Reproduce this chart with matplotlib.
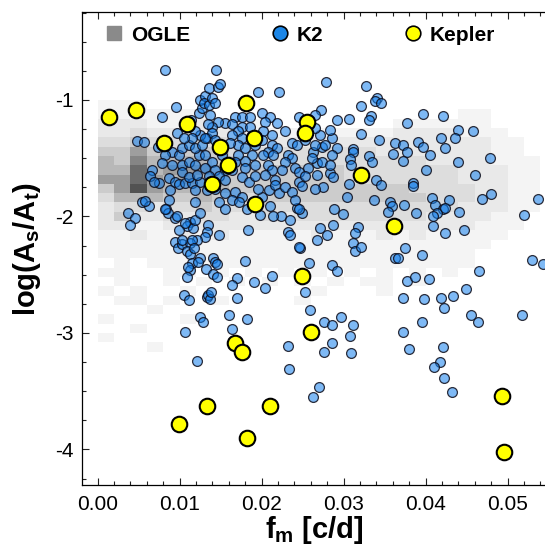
import numpy as np
import matplotlib
matplotlib.use("Agg")
import matplotlib.pyplot as plt
from matplotlib.colors import ListedColormap
from matplotlib.lines import Line2D
from matplotlib.ticker import MultipleLocator, FormatStrFormatter

plt.rcParams["font.family"] = ["Liberation Sans", "DejaVu Sans"]
plt.rcParams["axes.unicode_minus"] = False
plt.rcParams["mathtext.fontset"] = "custom"
plt.rcParams["mathtext.rm"] = "Liberation Sans"
plt.rcParams["mathtext.bf"] = "Liberation Sans:bold"

# ---- OGLE density map (relative counts per cell, 0 = empty) ----
ogle_f_edges = np.arange(0.0, 0.0561, 0.002)          # 28 frequency bins
ogle_logamp_top = -0.92
ogle_logamp_step = 0.08
ogle_rows = [
    "0000000000000000000000000000",
    "1110000000000000000000000000",
    "1111111000000000000000110000",
    "2221112111000000001111110000",
    "2232222211111111112222111000",
    "3343333322222222222222221100",
    "4464444433333333322222221100",
    "5475555443333333333322221110",
    "5585666544444343333333222110",
    "6686565544444443333333222110",
    "4696555544444444444333322110",
    "3555445443444444444433322110",
    "2332334333333333333333222110",
    "2422323322323333333322221100",
    "2211222222222222222222211100",
    "1121121211111211121211111000",
    "1111111111111111111111110000",
    "1111111111111111111111100000",
    "0101111111111111111111100000",
    "1100110101010101010101000000",
    "0100101010101010110100000000",
    "1010010000000100010000000000",
    "0110100100001000000000000000",
    "0001000000000000000000000000",
    "1000010000000000000000000000",
    "0010000000000000000000000000",
    "1000000000000000000000000000",
    "0001000000000000000000000000",
    "0000000000000000000000000000",
]
# grey level drawn for each count class 0..9
ogle_grey_levels = [1.0, 0.955, 0.915, 0.865, 0.8, 0.72, 0.62, 0.52, 0.42, 0.32]

# ---- K2 stars: main frequency [c/d] and log amplitude ratio ----
k2_freq = [
    0.0082, 0.0145, 0.0196, 0.0221, 0.0279, 0.0327, 0.0341, 0.0338, 0.0346, 0.0321,
    0.0334, 0.0331, 0.0292, 0.0307, 0.0273, 0.0265, 0.0397, 0.0421, 0.0377, 0.0321,
    0.0343, 0.0286, 0.0292, 0.0312, 0.0312, 0.0363, 0.0372, 0.0377, 0.0360, 0.0391,
    0.0397, 0.0405, 0.0372, 0.0419, 0.0424, 0.0440, 0.0436, 0.0458, 0.0440, 0.0479,
    0.0331, 0.0335, 0.0308, 0.0309, 0.0400, 0.0460, 0.0469, 0.0480, 0.0537, 0.0520,
    0.0385, 0.0384, 0.0408, 0.0412, 0.0429, 0.0421, 0.0441, 0.0388, 0.0340, 0.0345,
    0.0337, 0.0356, 0.0359, 0.0374, 0.0354, 0.0307, 0.0304, 0.0288, 0.0299, 0.0284,
    0.0287, 0.0275, 0.0265, 0.0268, 0.0274, 0.0271, 0.0263, 0.0268, 0.0257, 0.0284,
    0.0414, 0.0409, 0.0424, 0.0271, 0.0280, 0.0268, 0.0287, 0.0318, 0.0314, 0.0312,
    0.0314, 0.0321, 0.0409, 0.0424, 0.0447, 0.0375, 0.0396, 0.0363, 0.0366, 0.0258,
    0.0286, 0.0292, 0.0377, 0.0387, 0.0404, 0.0465, 0.0530, 0.0543, 0.0449, 0.0372,
    0.0398, 0.0419, 0.0433, 0.0423, 0.0518, 0.0455, 0.0464, 0.0396, 0.0372, 0.0380,
    0.0421, 0.0418, 0.0410, 0.0423, 0.0432, 0.0253, 0.0259, 0.0276, 0.0286, 0.0297,
    0.0312, 0.0308, 0.0286, 0.0276, 0.0309, 0.0270, 0.0263, 0.0232, 0.0234, 0.0247,
    0.0249, 0.0037, 0.0046, 0.0040, 0.0054, 0.0063, 0.0058, 0.0084, 0.0086, 0.0095,
    0.0113, 0.0109, 0.0116, 0.0119, 0.0135, 0.0134, 0.0131, 0.0121, 0.0148, 0.0184,
    0.0095, 0.0098, 0.0103, 0.0113, 0.0109, 0.0113, 0.0115, 0.0113, 0.0110, 0.0109,
    0.0125, 0.0123, 0.0141, 0.0143, 0.0146, 0.0132, 0.0141, 0.0146, 0.0180, 0.0170,
    0.0164, 0.0191, 0.0204, 0.0213, 0.0105, 0.0112, 0.0134, 0.0135, 0.0137, 0.0138,
    0.0170, 0.0125, 0.0129, 0.0160, 0.0182, 0.0164, 0.0107, 0.0121, 0.0224, 0.0235,
    0.0232, 0.0235, 0.0246, 0.0243, 0.0210, 0.0198, 0.0214, 0.0097, 0.0099, 0.0103,
    0.0115, 0.0118, 0.0096, 0.0079, 0.0048, 0.0057, 0.0074, 0.0091, 0.0082, 0.0079,
    0.0091, 0.0099, 0.0103, 0.0112, 0.0103, 0.0112, 0.0119, 0.0124, 0.0119, 0.0127,
    0.0134, 0.0125, 0.0119, 0.0115, 0.0124, 0.0127, 0.0125, 0.0131, 0.0136, 0.0130,
    0.0136, 0.0137, 0.0066, 0.0147, 0.0140, 0.0143, 0.0245, 0.0168, 0.0176, 0.0186,
    0.0201, 0.0210, 0.0204, 0.0219, 0.0155, 0.0164, 0.0176, 0.0147, 0.0140, 0.0186,
    0.0229, 0.0265, 0.0277, 0.0213, 0.0202, 0.0201, 0.0135, 0.0140, 0.0131, 0.0143,
    0.0171, 0.0164, 0.0176, 0.0171, 0.0162, 0.0213, 0.0219, 0.0208, 0.0214, 0.0202,
    0.0237, 0.0243, 0.0232, 0.0237, 0.0229, 0.0265, 0.0262, 0.0274, 0.0286, 0.0284,
    0.0180, 0.0188, 0.0180, 0.0171, 0.0192, 0.0180, 0.0131, 0.0140, 0.0131, 0.0143,
    0.0155, 0.0208, 0.0213, 0.0225, 0.0241, 0.0245, 0.0168, 0.0164, 0.0064, 0.0075,
    0.0069, 0.0087, 0.0088, 0.0087, 0.0082, 0.0095, 0.0099, 0.0107, 0.0115, 0.0125,
    0.0134, 0.0119, 0.0103, 0.0112, 0.0121, 0.0136, 0.0148, 0.0155, 0.0176, 0.0185,
    0.0192, 0.0204, 0.0216, 0.0143, 0.0155, 0.0168, 0.0176, 0.0164, 0.0148, 0.0155,
    0.0173, 0.0182, 0.0201, 0.0209, 0.0216, 0.0221, 0.0229, 0.0237, 0.0246, 0.0253,
    0.0249, 0.0241, 0.0246, 0.0119, 0.0125, 0.0107, 0.0149, 0.0114, 0.0097, 0.0105,
    0.0152, 0.0192, 0.0196, 0.0253,
]
k2_logamp = [
    -0.74, -0.74, -0.93, -0.93, -0.85, -0.88, -0.98, -1.01, -1.03, -1.05,
    -1.14, -1.17, -1.17, -1.16, -1.09, -1.13, -1.12, -1.14, -1.20, -1.29,
    -1.34, -1.33, -1.41, -1.42, -1.45, -1.37, -1.39, -1.45, -1.46, -1.36,
    -1.40, -1.47, -1.52, -1.33, -1.41, -1.26, -1.33, -1.27, -1.53, -1.50,
    -1.48, -1.53, -1.51, -1.56, -1.60, -1.64, -1.85, -1.81, -1.85, -1.99,
    -1.71, -1.74, -1.84, -1.90, -1.86, -1.94, -1.96, -1.97, -1.69, -1.73,
    -1.86, -1.88, -1.91, -1.90, -1.96, -1.72, -1.83, -1.94, -1.98, -1.63,
    -1.66, -1.75, -1.76, -1.64, -1.40, -1.30, -1.45, -1.54, -1.58, -1.26,
    -1.97, -2.00, -1.93, -2.10, -2.16, -2.20, -2.07, -2.09, -2.14, -2.23,
    -2.30, -2.26, -2.08, -2.14, -2.12, -2.27, -2.33, -2.36, -2.36, -2.40,
    -2.42, -2.47, -2.55, -2.52, -2.54, -2.47, -2.37, -2.41, -2.62, -2.70,
    -2.71, -2.70, -2.68, -2.79, -2.85, -2.85, -2.91, -2.91, -2.99, -3.14,
    -3.12, -3.25, -3.29, -3.39, -3.51, -2.65, -2.80, -2.91, -2.93, -2.86,
    -2.93, -3.03, -3.09, -3.16, -3.17, -3.46, -3.55, -3.11, -3.31, -2.27,
    -1.97, -1.97, -2.01, -2.07, -1.88, -1.91, -1.87, -1.94, -1.97, -2.01,
    -2.05, -2.08, -2.10, -2.03, -2.07, -2.13, -2.18, -2.20, -2.16, -2.12,
    -2.22, -2.27, -2.24, -2.23, -2.30, -2.32, -2.40, -2.46, -2.43, -2.52,
    -2.36, -2.39, -2.36, -2.39, -2.41, -2.45, -2.49, -2.52, -2.38, -2.53,
    -2.59, -2.56, -2.61, -2.51, -2.67, -2.72, -2.69, -2.67, -2.71, -2.65,
    -2.70, -2.86, -2.91, -2.85, -2.88, -2.97, -2.99, -3.24, -2.00, -2.03,
    -2.13, -2.16, -2.26, -1.93, -1.91, -1.99, -2.00, -2.00, -2.12, -2.20,
    -2.20, -2.27, -1.06, -1.15, -1.35, -1.36, -1.40, -1.45, -1.47, -1.54,
    -1.56, -1.47, -1.41, -1.39, -1.56, -1.53, -1.56, -1.47, -1.41, -1.39,
    -1.33, -1.30, -1.27, -1.33, -1.11, -1.07, -1.00, -0.97, -0.90, -1.03,
    -1.04, -1.13, -1.60, -0.89, -0.98, -1.03, -1.15, -1.15, -1.15, -1.15,
    -1.11, -1.15, -1.19, -1.20, -1.20, -1.21, -1.23, -1.19, -1.23, -1.23,
    -1.27, -1.24, -1.39, -1.30, -1.27, -1.34, -1.21, -1.28, -1.33, -1.34,
    -1.27, -1.30, -1.33, -1.39, -1.37, -1.39, -1.41, -1.45, -1.47, -1.47,
    -1.37, -1.39, -1.47, -1.50, -1.53, -1.39, -1.50, -1.53, -1.47, -1.56,
    -1.41, -1.47, -1.52, -1.47, -1.56, -1.58, -1.47, -1.53, -1.58, -1.60,
    -1.60, -1.56, -1.60, -1.60, -1.58, -1.62, -1.53, -1.60, -1.65, -1.71,
    -1.70, -1.67, -1.77, -1.86, -1.94, -1.70, -1.72, -1.71, -1.71, -1.70,
    -1.77, -1.77, -1.62, -1.66, -1.64, -1.65, -1.65, -1.69, -1.66, -1.70,
    -1.65, -1.64, -1.69, -1.76, -1.80, -1.79, -1.83, -1.86, -1.88, -1.94,
    -1.88, -1.94, -1.83, -1.77, -1.73, -1.80, -1.75, -1.79, -1.70, -1.65,
    -1.74, -1.86, -1.94, -1.88, -1.97, -2.06, -0.86, -1.17, -1.28, -1.33,
    -1.47, -1.39, -1.76, -1.34,
]

# ---- Kepler stars ----
kepler_freq = [
    0.0014, 0.0047, 0.0081, 0.0109, 0.0181, 0.0191, 0.0149, 0.0159, 0.0140, 0.0192,
    0.0255, 0.0253, 0.0321, 0.0362, 0.0249, 0.0260, 0.0168, 0.0176, 0.0099, 0.0134,
    0.0210, 0.0182, 0.0493, 0.0496,
]
kepler_logamp = [
    -1.15, -1.09, -1.37, -1.21, -1.03, -1.33, -1.40, -1.56, -1.72, -1.89,
    -1.19, -1.28, -1.64, -2.08, -2.51, -2.99, -3.09, -3.16, -3.78, -3.63,
    -3.63, -3.90, -3.54, -4.02,
]

ogle_grid = np.array([[int(c) for c in row] for row in ogle_rows], dtype=float)
n_rows = ogle_grid.shape[0]
ogle_y_edges = ogle_logamp_top - ogle_logamp_step * np.arange(n_rows + 1)

fig = plt.figure(figsize=(5.45, 5.49), dpi=100)
ax = fig.add_axes([82 / 545, 64 / 549, 465 / 545, 473 / 549])

grey_map = ListedColormap([(g, g, g) for g in ogle_grey_levels], name="ogle")
ax.pcolormesh(ogle_f_edges, ogle_y_edges, ogle_grid, cmap=grey_map,
              vmin=-0.5, vmax=9.5, shading="flat", zorder=1, linewidth=0)

ax.scatter(k2_freq, k2_logamp, s=50, facecolor=(0.08, 0.50, 0.93, 0.55),
           edgecolor=(0.05, 0.05, 0.1, 0.85), linewidth=0.9, zorder=3)
ax.scatter(kepler_freq, kepler_logamp, s=125, facecolor="#ffff00",
           edgecolor="black", linewidth=1.5, zorder=4)

ax.set_xlim(-0.0019, 0.0548)
ax.set_ylim(-4.305, -0.245)

ax.xaxis.set_major_locator(MultipleLocator(0.01))
ax.xaxis.set_minor_locator(MultipleLocator(0.002))
ax.xaxis.set_major_formatter(FormatStrFormatter("%.2f"))
ax.yaxis.set_major_locator(MultipleLocator(1.0))
ax.yaxis.set_minor_locator(MultipleLocator(0.25))
ax.yaxis.set_major_formatter(FormatStrFormatter("%d"))
ax.tick_params(which="both", direction="in", top=True, right=False,
               labelsize=15, width=0.8, colors="#222222", labelcolor="black")
ax.tick_params(which="major", length=5)
ax.tick_params(which="minor", length=3)
ax.tick_params(axis="x", pad=7)
ax.tick_params(axis="y", pad=6)
for side in ("left", "bottom", "top"):
    ax.spines[side].set_linewidth(0.9)
ax.spines["right"].set_visible(False)

ax.set_xlabel(r"f$_{\mathbf{m}}$ [c/d]", fontsize=21, fontweight="bold", labelpad=0)
ax.set_ylabel(r"log(A$_{\mathbf{s}}$/A$_{\mathbf{t}}$)", fontsize=21,
              fontweight="bold", labelpad=9)

handles = [
    Line2D([], [], linestyle="none", marker="s", markersize=10,
           markerfacecolor="#8a8a8a", markeredgecolor="#8a8a8a"),
    Line2D([], [], linestyle="none", marker="o", markersize=10.5,
           markerfacecolor="#1c86e6", markeredgecolor="black", markeredgewidth=1.2),
    Line2D([], [], linestyle="none", marker="o", markersize=10.5,
           markerfacecolor="#ffff00", markeredgecolor="black", markeredgewidth=1.2),
]
ax.legend(handles, ["OGLE", "K2", "Kepler"], ncol=3, frameon=False,
          loc="center left", bbox_to_anchor=(24 / 465, 0.951),
          prop={"size": 15, "weight": "bold"}, handlelength=0.8,
          handletextpad=0.4, columnspacing=3.9, borderaxespad=0, borderpad=0)

fig.savefig("out.png", dpi=100)
